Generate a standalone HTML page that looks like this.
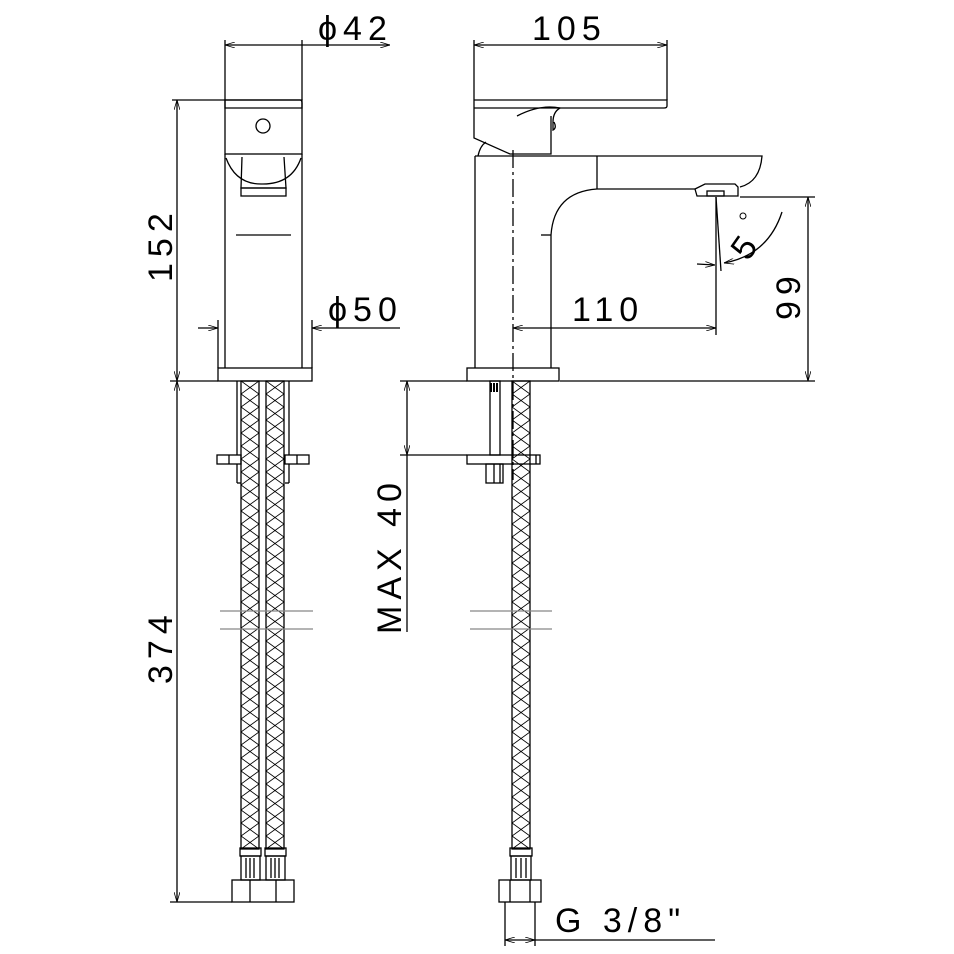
<!DOCTYPE html>
<html><head><meta charset="utf-8"><style>html,body{margin:0;padding:0;background:#fff}svg{display:block}text{font-family:"Liberation Sans",sans-serif;fill:#000}</style></head><body>
<svg width="954" height="954" viewBox="0 0 954 954" xmlns="http://www.w3.org/2000/svg">
<defs>
<pattern id="x" x="241" y="381" width="18" height="13" patternUnits="userSpaceOnUse"><path d="M0 0L18 13M18 0L0 13" stroke="#000" stroke-width="0.9"/></pattern>
<pattern id="x2" x="266" y="381" width="18" height="13" patternUnits="userSpaceOnUse"><path d="M0 0L18 13M18 0L0 13" stroke="#000" stroke-width="0.9"/></pattern>
<pattern id="x3" x="512" y="381" width="18" height="13" patternUnits="userSpaceOnUse"><path d="M0 0L18 13M18 0L0 13" stroke="#000" stroke-width="0.9"/></pattern>
<marker id="a" markerWidth="10" markerHeight="6" refX="10" refY="3" orient="auto-start-reverse" markerUnits="userSpaceOnUse"><path d="M0 0L10 3L0 6" fill="none" stroke="#000" stroke-width="0.8"/></marker>
</defs>
<g stroke="#000" stroke-width="1.3" fill="none">
<!-- LEFT VIEW -->
<line x1="225" y1="40" x2="225" y2="100"/><line x1="302" y1="40" x2="302" y2="100"/>
<line x1="225" y1="45" x2="390" y2="45" marker-start="url(#a)" marker-end="url(#a)"/>
<path d="M225 100H300Q302 100 302 103V108H225Z"/>
<rect x="225" y="100" width="77" height="54"/>
<circle cx="263" cy="126" r="7"/>
<line x1="225" y1="154" x2="225" y2="368"/><line x1="302" y1="154" x2="302" y2="368"/>
<path d="M226 158Q236 185 263 184Q292 184 301 158"/>
<path d="M242 157L241 188H286L284 157"/>
<rect x="241" y="188" width="45" height="8"/>
<line x1="236" y1="235" x2="291" y2="235"/>
<line x1="218" y1="320" x2="218" y2="368"/><line x1="312" y1="320" x2="312" y2="368"/>
<line x1="198" y1="328" x2="218" y2="328" marker-end="url(#a)"/>
<line x1="312" y1="328" x2="400" y2="328" marker-start="url(#a)"/>
<rect x="218" y="368" width="94" height="13"/>
<line x1="172" y1="100" x2="225" y2="100"/>
<line x1="170" y1="381" x2="218" y2="381"/>
<line x1="177" y1="100" x2="177" y2="381" marker-start="url(#a)" marker-end="url(#a)"/>
<line x1="177" y1="381" x2="177" y2="902" marker-start="url(#a)" marker-end="url(#a)"/>
<line x1="170" y1="902" x2="232" y2="902"/>
<!-- left hoses -->
<rect x="241" y="381" width="18" height="468" fill="url(#x)"/>
<rect x="266" y="381" width="18" height="468" fill="url(#x2)"/>
<line x1="237" y1="381" x2="237" y2="455"/><line x1="289" y1="381" x2="289" y2="455"/>
<rect x="217" y="455" width="24" height="9"/><line x1="229" y1="455" x2="229" y2="464"/>
<rect x="285" y="455" width="24" height="9"/><line x1="297" y1="455" x2="297" y2="464"/>
<line x1="237" y1="464" x2="237" y2="483"/><line x1="289" y1="464" x2="289" y2="483"/>
<line x1="237" y1="483" x2="241" y2="483"/><line x1="285" y1="483" x2="289" y2="483"/>
<g stroke="#888"><line x1="220" y1="611" x2="313" y2="611"/><line x1="220" y1="629" x2="313" y2="629"/></g>
<rect x="240" y="848" width="21" height="8"/><rect x="265" y="848" width="21" height="8"/>
<rect x="241" y="856" width="19" height="24"/><rect x="266" y="856" width="19" height="24"/>
<path d="M246 858V878M250 858V878M254 858V878M271 858V878M275 858V878M279 858V878"/>
<rect x="232" y="880" width="62" height="22"/><line x1="250" y1="880" x2="250" y2="902"/><line x1="276" y1="880" x2="276" y2="902"/>
<!-- RIGHT VIEW -->
<line x1="474" y1="40" x2="474" y2="100"/><line x1="667" y1="40" x2="667" y2="100"/>
<line x1="474" y1="45" x2="667" y2="45" marker-start="url(#a)" marker-end="url(#a)"/>
<path d="M474 100H667V106Q667 108 664 108H474"/>
<path d="M474 100V138L510 154H551V116"/>
<path d="M517 116Q540 104 560 108Q553 112 553 122V130Q557 128 554 122"/>
<path d="M478 156Q480 146 486 142"/>
<path d="M475 156H762Q760 182 740 187"/>
<line x1="475" y1="156" x2="475" y2="368"/>
<line x1="597" y1="156" x2="597" y2="189"/>
<path d="M597 189H695M597 189Q554 192 551 235V368"/>
<line x1="541" y1="235" x2="551" y2="235"/>
<path d="M695 189L705 184H735L738 187V196H697Z"/>
<rect x="707" y="191" width="17" height="5"/>
<line x1="513" y1="150" x2="513" y2="480" stroke-dasharray="18 4 3 4"/>
<rect x="467" y="368" width="92" height="13"/>
<line x1="716" y1="197" x2="716" y2="335"/>
<line x1="513" y1="328" x2="716" y2="328" marker-start="url(#a)" marker-end="url(#a)"/>
<line x1="716" y1="197" x2="721" y2="271"/>
<path d="M782 212Q768 255 724 263" marker-end="url(#a)"/>
<line x1="697" y1="264" x2="715" y2="265" marker-end="url(#a)"/>
<line x1="740" y1="197" x2="815" y2="197"/>
<line x1="560" y1="381" x2="815" y2="381"/>
<line x1="808" y1="197" x2="808" y2="381" marker-start="url(#a)" marker-end="url(#a)"/>
<!-- right hose -->
<rect x="512" y="381" width="18" height="468" fill="url(#x3)"/>
<rect x="490" y="381" width="10" height="74"/><path d="M491 383V392M494 383V392M497 383V392" stroke-width="2"/>
<rect x="467" y="455" width="73" height="9"/><line x1="536" y1="455" x2="536" y2="464"/>
<rect x="486" y="464" width="17" height="19"/><line x1="494" y1="464" x2="494" y2="483"/><line x1="500" y1="464" x2="500" y2="483"/>
<line x1="400" y1="381" x2="467" y2="381"/><line x1="400" y1="455" x2="467" y2="455"/>
<line x1="407" y1="381" x2="407" y2="455" marker-start="url(#a)" marker-end="url(#a)"/>
<line x1="407" y1="455" x2="407" y2="632"/>
<g stroke="#888"><line x1="470" y1="611" x2="552" y2="611"/><line x1="470" y1="629" x2="552" y2="629"/></g>
<rect x="510" y="848" width="22" height="8"/><rect x="511" y="856" width="20" height="24"/>
<path d="M516 858V878M521 858V878M526 858V878"/>
<rect x="499" y="880" width="42" height="22"/><line x1="510" y1="880" x2="510" y2="902"/><line x1="530" y1="880" x2="530" y2="902"/>
<line x1="505" y1="902" x2="505" y2="946"/><line x1="535" y1="902" x2="535" y2="946"/>
<line x1="505" y1="940" x2="535" y2="940" marker-start="url(#a)" marker-end="url(#a)"/>
<line x1="535" y1="940" x2="715" y2="940"/>
</g>
<g font-size="34" letter-spacing="6">
<text x="318" y="40">ϕ42</text>
<text x="532" y="40">105</text>
<text x="328" y="321">ϕ50</text>
<text x="572" y="321">110</text>
<text x="555" y="932">G 3/8"</text>
<text transform="translate(172 282) rotate(-90)">152</text>
<text transform="translate(172 684) rotate(-90)">374</text>
<text transform="translate(401 634) rotate(-90)">MAX 40</text>
<text transform="translate(800 320) rotate(-90)">99</text>
<text transform="translate(748 262) rotate(-55)">5</text>
</g>
<circle cx="743" cy="216" r="3" fill="none" stroke="#000" stroke-width="1"/>
</svg>
</body></html>
